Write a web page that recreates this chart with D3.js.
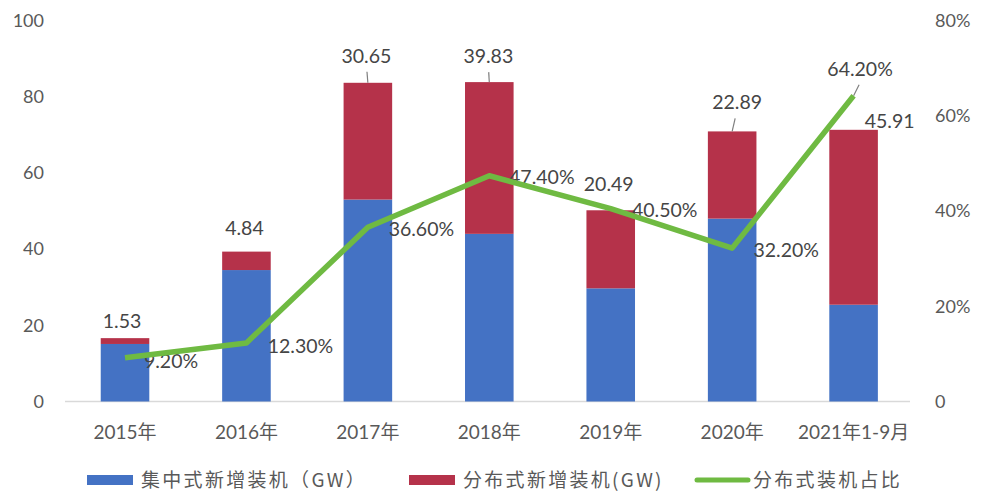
<!DOCTYPE html>
<html>
<head>
<meta charset="utf-8">
<script src="https://cdn.jsdelivr.net/npm/d3@7"></script>
<style>
  html, body { margin: 0; padding: 0; background: #fff; }
  svg { display: block; }
  text { font-family: Lato, "Noto Sans CJK SC", sans-serif; }
</style>
</head>
<body>
<svg id="chart" width="983" height="501"></svg>
<script>
// ---- data ----
const categories = ["2015年", "2016年", "2017年", "2018年", "2019年", "2020年", "2021年1-9月"];
const centralized = [15.1, 34.5, 53.0, 44.0, 29.7, 48.0, 25.4];   // 集中式新增装机（GW）
const distributed = [1.53, 4.84, 30.65, 39.83, 20.49, 22.89, 45.91]; // 分布式新增装机(GW)
const shareLabels = ["9.20%", "12.30%", "36.60%", "47.40%", "40.50%", "32.20%", "64.20%"];
const share = [9.2, 12.3, 36.6, 47.4, 40.5, 32.2, 64.2];          // 分布式装机占比 (%)
const leftTicks = [0, 20, 40, 60, 80, 100];
const rightTicks = [0, 20, 40, 60, 80];
const legendNames = ["集中式新增装机（GW）", "分布式新增装机(GW)", "分布式装机占比"];

// label placement offsets (layout, not data)
const distLabelOffset = [[-3, -17], [-2, -23], [-1.5, -27], [-1, -26], [-2, -26], [5, -29], [36, -9]];
const distLeader = [false, false, true, true, false, true, false];
const shareLabelOffset = [[46, 3], [54, 3], [53.5, 2], [52.5, 1], [54, 2], [54, 2], [6.5, -27]];
const shareLeader = [false, false, false, false, false, false, true];

// ---- styles ----
const BLUE = "#4472C4", RED = "#B5324A", GREEN = "#6FBA42";
const TXT = "#595959", LBL = "#454545";

const svg = d3.select("#chart");

const x = d3.scaleBand().domain(categories).range([64.3, 914.3]).paddingInner(0.6).paddingOuter(0.3);
const y = d3.scaleLinear().domain([0, 100]).range([401.5, 20.5]);
const yR = d3.scaleLinear().domain([0, 80]).range([401.5, 20.5]);

const rows = categories.map((c, i) => ({ c, i, a: centralized[i], b: distributed[i], p: share[i] }));

// baseline
svg.append("line").attr("x1", 65).attr("x2", 910).attr("y1", y(0)).attr("y2", y(0))
  .attr("stroke", "#d9d9d9").attr("stroke-width", 1.3);

// left axis
const gl = svg.append("g").attr("transform", "translate(44,0)")
  .call(d3.axisLeft(y).tickValues(leftTicks).tickSize(0).tickPadding(0));
gl.select(".domain").remove();
gl.selectAll("text").attr("font-size", 18).attr("fill", TXT).style("font-family", "Lato, sans-serif");

// right axis
const gr = svg.append("g").attr("transform", "translate(935,0)")
  .call(d3.axisRight(yR).tickValues(rightTicks).tickSize(0).tickPadding(0)
    .tickFormat(d => d === 0 ? "0" : d + "%"));
gr.select(".domain").remove();
gr.selectAll("text").attr("font-size", 18).attr("fill", TXT).style("font-family", "Lato, sans-serif");

// category labels
svg.append("g").selectAll("text").data(rows).join("text")
  .attr("x", d => x(d.c) + x.bandwidth() / 2)
  .attr("y", 432.5).attr("dy", "0.35em")
  .attr("text-anchor", "middle").attr("font-size", 19).attr("fill", TXT)
  .text(d => d.c);

// bars
svg.append("g").selectAll("rect").data(rows).join("rect")
  .attr("x", d => x(d.c)).attr("width", x.bandwidth())
  .attr("y", d => y(d.a)).attr("height", d => y(0) - y(d.a))
  .attr("fill", BLUE);
svg.append("g").selectAll("rect").data(rows).join("rect")
  .attr("x", d => x(d.c)).attr("width", x.bandwidth())
  .attr("y", d => y(d.a + d.b)).attr("height", d => y(d.a) - y(d.a + d.b))
  .attr("fill", RED);

// distributed value labels
const dl = svg.append("g");
rows.forEach(d => {
  const cx = x(d.c) + x.bandwidth() / 2, ty = y(d.a + d.b);
  const [dx, dy] = distLabelOffset[d.i];
  dl.append("text").attr("x", cx + dx).attr("y", ty + dy).attr("dy", "0.35em")
    .attr("text-anchor", "middle").attr("font-size", 19.5).attr("fill", LBL)
    .text(d.b.toFixed(2));
  if (distLeader[d.i]) {
    dl.append("line").attr("x1", cx + dx * 0.6).attr("y1", ty + dy + 16)
      .attr("x2", cx).attr("y2", ty)
      .attr("stroke", "#7f7f7f").attr("stroke-width", 1.2);
  }
});

// share labels (drawn under the line)
const sl = svg.append("g");
rows.forEach(d => {
  const cx = x(d.c) + x.bandwidth() / 2, py = yR(d.p);
  const [dx, dy] = shareLabelOffset[d.i];
  sl.append("text").attr("x", cx + dx).attr("y", py + dy).attr("dy", "0.35em")
    .attr("text-anchor", "middle").attr("font-size", 19.5).attr("fill", LBL)
    .text(shareLabels[d.i]);
  if (shareLeader[d.i]) {
    sl.append("line").attr("x1", cx + dx * 0.85).attr("y1", py + dy + 16)
      .attr("x2", cx).attr("y2", py)
      .attr("stroke", "#7f7f7f").attr("stroke-width", 1.2);
  }
});

// share line
const line = d3.line().x(d => x(d.c) + x.bandwidth() / 2).y(d => yR(d.p));
svg.append("path").datum(rows).attr("d", line)
  .attr("fill", "none").attr("stroke", GREEN).attr("stroke-width", 5.5)
  .attr("stroke-linejoin", "round").attr("stroke-linecap", "butt");

// legend
const lg = svg.append("g");
const legendX = [87, 409, 697];
const legendColors = [BLUE, RED, GREEN];
legendNames.forEach((name, i) => {
  if (i < 2) {
    lg.append("rect").attr("x", legendX[i]).attr("y", 475).attr("width", 46).attr("height", 10)
      .attr("fill", legendColors[i]);
  } else {
    lg.append("line").attr("x1", legendX[i]).attr("x2", legendX[i] + 51).attr("y1", 480).attr("y2", 480)
      .attr("stroke", GREEN).attr("stroke-width", 5).attr("stroke-linecap", "round");
  }
  lg.append("text").attr("x", legendX[i] + (i < 2 ? 54 : 56)).attr("y", 480).attr("dy", "0.35em")
    .attr("font-size", 19).attr("letter-spacing", "2.3px").attr("fill", TXT)
    .style("font-family", "'Noto Sans CJK SC', Lato, sans-serif")
    .text(name);
});
</script>
</body>
</html>
